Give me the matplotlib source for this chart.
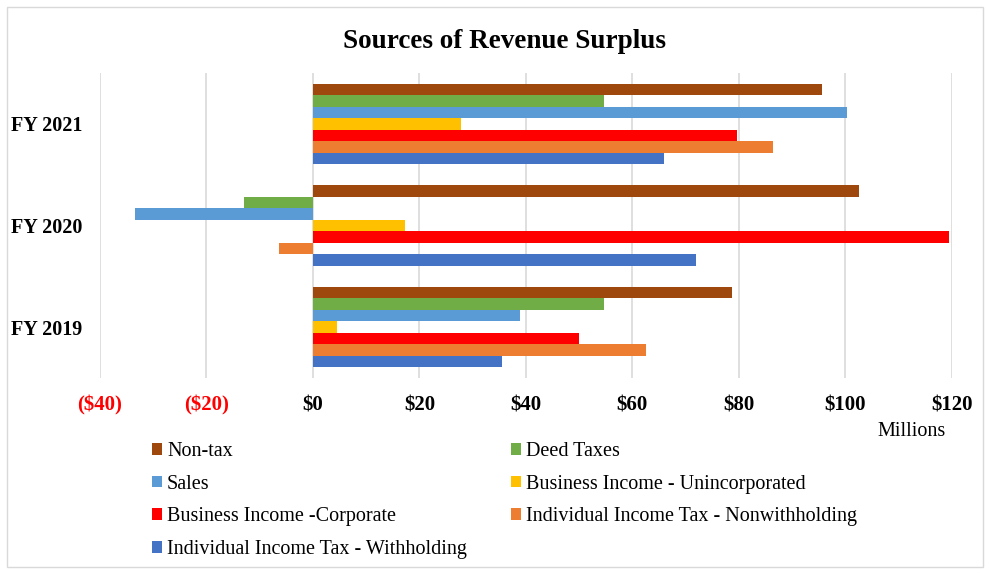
import matplotlib
matplotlib.use('Agg')
import matplotlib.pyplot as plt
import matplotlib.patches as patches
import numpy

# ========================== DATA ==========================
CATEGORIES = ['FY 2019', 'FY 2020', 'FY 2021']

# series listed top-to-bottom as they appear inside each group (and in the legend)
SERIES = [
    'Non-tax',
    'Deed Taxes',
    'Sales',
    'Business Income - Unincorporated',
    'Business Income -Corporate',
    'Individual Income Tax - Nonwithholding',
    'Individual Income Tax - Withholding',
]

# values in millions, order: FY 2019, FY 2020, FY 2021
NON_TAX = [78.7, 102.5, 95.6]
DEED_TAXES = [54.6, -13.0, 54.7]
SALES = [38.9, -33.4, 100.3]
BUSINESS_UNINC = [4.5, 17.3, 27.8]
BUSINESS_CORP = [49.9, 119.4, 79.7]
IIT_NONWITHHOLDING = [62.6, -6.4, 86.5]
IIT_WITHHOLDING = [35.5, 72.0, 66.0]

VALUES = [NON_TAX, DEED_TAXES, SALES, BUSINESS_UNINC,
          BUSINESS_CORP, IIT_NONWITHHOLDING, IIT_WITHHOLDING]

COLORS = ['#9E480E', '#70AD47', '#5B9BD5', '#FFC000',
          '#FF0000', '#ED7D31', '#4472C4']

X_TICKS = [-40, -20, 0, 20, 40, 60, 80, 100, 120]
X_TICK_LABELS = ['($40)', '($20)', '$0', '$20', '$40', '$60', '$80', '$100', '$120']
# ===========================================================

plt.rcParams['font.family'] = ['Liberation Serif', 'DejaVu Serif']

fig = plt.figure(figsize=(9.9, 5.74), dpi=100)
ax = fig.add_axes([100 / 990, 1 - 378 / 574, 851.7 / 990, 305 / 574])

bar_h = 0.113
n = len(SERIES)
y_pos = numpy.arange(len(CATEGORIES))

handles = []
for i, (name, vals, col) in enumerate(zip(SERIES, VALUES, COLORS)):
    offset = ((n - 1) / 2 - i) * bar_h
    h = ax.barh(y_pos + offset, vals, height=bar_h, color=col, label=name,
                edgecolor='none', zorder=2)
    handles.append(h)

ax.set_xlim(-40, 120)
ax.set_ylim(-0.5, len(CATEGORIES) - 0.5)

ax.set_xticks(X_TICKS)
ax.set_xticklabels(X_TICK_LABELS, fontsize=15, fontweight='bold')
for lbl, v in zip(ax.get_xticklabels(), X_TICKS):
    if v < 0:
        lbl.set_color('#FF0000')

ax.set_yticks(y_pos)
ax.set_yticklabels(CATEGORIES, fontsize=14.5, fontweight='bold')

ax.tick_params(axis='x', length=0, pad=12.5)
ax.tick_params(axis='y', length=0, pad=13)

ax.grid(axis='x', color='#D9D9D9', linewidth=1.2, zorder=0)
ax.set_axisbelow(True)
for s in ax.spines.values():
    s.set_visible(False)

fig.text(505 / 990, 1 - 41 / 574, 'Sources of Revenue Surplus',
         ha='center', va='center', fontsize=19.5, fontweight='bold')
fig.text(912 / 990, 1 - 432 / 574, 'Millions', ha='center', va='center',
         fontsize=14.5)

# legend filled row by row (matplotlib fills column by column)
order = [0, 2, 4, 6, 1, 3, 5]
fig.legend([handles[k] for k in order], [SERIES[k] for k in order],
           loc='upper left', bbox_to_anchor=(152 / 990, 1 - 442 / 574),
           ncol=2, frameon=False, fontsize=14.5,
           handlelength=0.5, handleheight=0.5, handletextpad=0.25,
           labelspacing=0.68, columnspacing=2.2, borderaxespad=0,
           borderpad=0)

# outer chart border
fig.patches.append(patches.Rectangle((7 / 990, 7 / 574), 976 / 990, 560 / 574,
                                     transform=fig.transFigure, fill=False,
                                     edgecolor='#D9D9D9', linewidth=1))

fig.savefig('out.png', dpi=100)
